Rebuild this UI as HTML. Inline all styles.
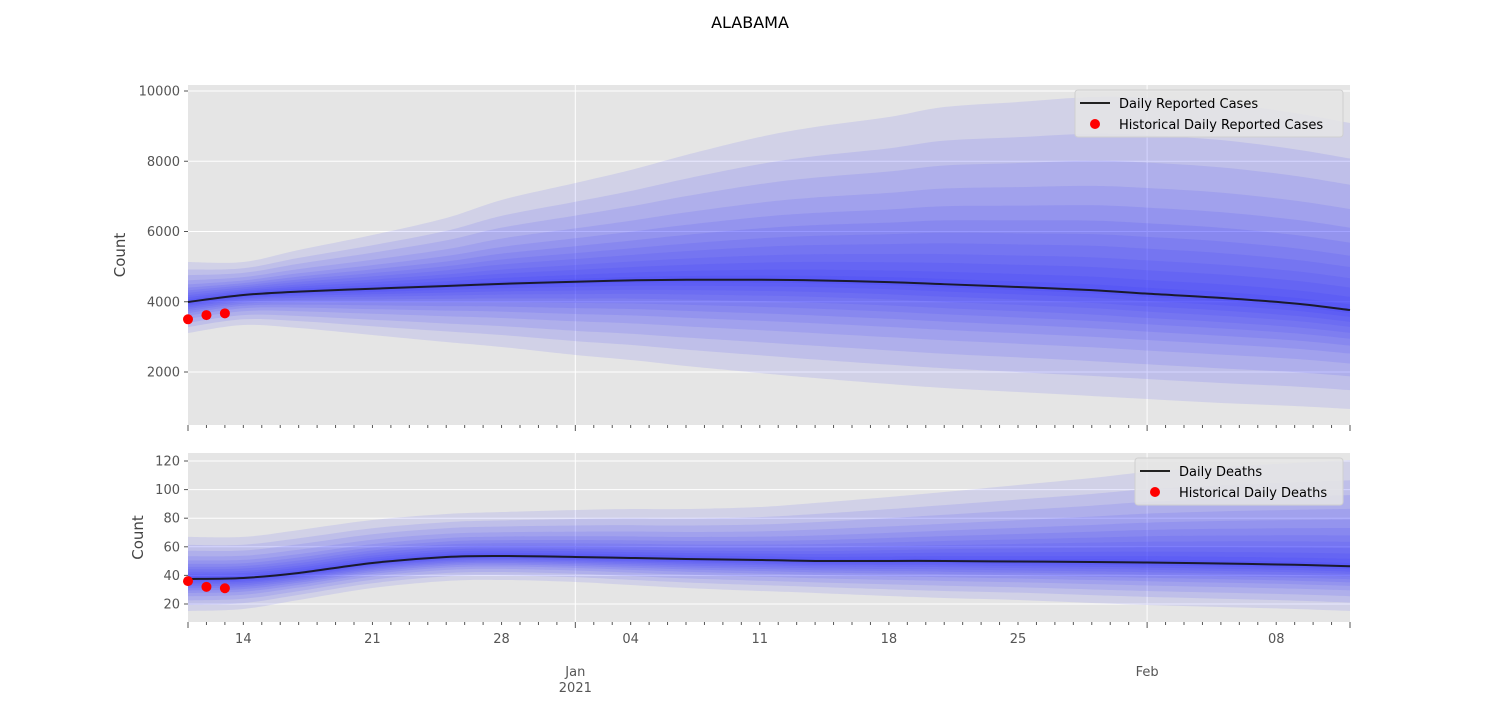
<!DOCTYPE html>
<html><head><meta charset="utf-8"><style>
body{margin:0;background:#fff;font-family:"Liberation Sans","DejaVu Sans",sans-serif}
</style></head><body>
<svg id="chart" width="1500" height="700" xmlns="http://www.w3.org/2000/svg" font-family="DejaVu Sans, Liberation Sans, sans-serif">
<text x="750" y="28" text-anchor="middle" font-size="16" fill="#000">ALABAMA</text>
<g id="top"></g><g id="bot"></g><g id="xaxis"></g>
</svg>
<script>
// sample days (days since Dec 11, 2020)
const sampleDays = [0,3,6,10,14,17,21,24,27,31,34,38,41,45,49,52,56,60,63];
const casesMedian = [3993,4192,4290,4370,4450,4510,4570,4610,4625,4625,4610,4560,4500,4420,4330,4230,4110,3950,3765];
const casesUpper  = [5132,5132,5473,5900,6384,6897,7380,7750,8178,8690,8975,9260,9545,9687,9829,9800,9658,9374,9089];
const casesLower  = [3110,3338,3253,3053,2853,2711,2484,2342,2171,1972,1829,1658,1544,1430,1317,1231,1117,1032,947];
const casesHistDays = [0,1,2];
const casesHist = [3500,3620,3670];
const deathsMedian = [37.5,38.2,41.7,48.7,52.9,53.6,52.9,52.2,51.5,50.8,50.1,50.1,50.1,49.7,49.4,49.0,48.3,47.4,46.4];
const deathsUpper  = [66.9,66.9,71.7,78.7,82.9,84.3,85.7,86.4,86.4,87.8,90.6,94.8,98.3,103.2,108.1,112.3,115.8,118.6,120.7];
const deathsLower  = [15.1,16.5,22.8,31.2,36.1,36.8,35.4,33.3,31.2,29.1,27.7,25.6,24.2,22.8,20.7,19.3,17.9,16.5,15.1];
const deathsHistDays = [0,1,2];
const deathsHist = [36,32,31];
const casesTicks = [2000,4000,6000,8000,10000];
const deathsTicks = [20,40,60,80,100,120];
const dayLabels = ["14","21","28","04","11","18","25","08"];
const dayLabelDays = [3,10,17,24,31,38,45,59];
const monthLabels = ["Jan\n2021","Feb"];
const monthDays = [21,52];

const NS="http://www.w3.org/2000/svg";
const X0=188,X1=1350,D0=0,D1=63;
const xs=d=>X0+(d-D0)/(D1-D0)*(X1-X0);
function mk(p,t,a){const e=document.createElementNS(NS,t);for(const k in a)e.setAttribute(k,a[k]);p.appendChild(e);return e;}
const fracs=[1,.81,.67,.54,.44,.36,.29,.23,.17,.12,.07,.03];

function smooth(pts,start){
  let s=(start?'M':'L')+pts[0][0]+','+pts[0][1];
  for(let i=0;i<pts.length-1;i++){
    const p0=pts[Math.max(0,i-1)],p1=pts[i],p2=pts[i+1],p3=pts[Math.min(pts.length-1,i+2)];
    const c1=[p1[0]+(p2[0]-p0[0])/6,p1[1]+(p2[1]-p0[1])/6];
    const c2=[p2[0]-(p3[0]-p1[0])/6,p2[1]-(p3[1]-p1[1])/6];
    s+=`C${c1[0]},${c1[1]} ${c2[0]},${c2[1]} ${p2[0]},${p2[1]}`;
  }
  return s;
}

function panel(g,top,bot,vmin,vmax,ticks,med,up,lo,hd,hv,leg,legX,legW,ylx){
  const ys=v=>bot-(v-vmin)/(vmax-vmin)*(bot-top);
  const bg=mk(g,'rect',{x:X0,y:top,width:X1-X0,height:bot-top,fill:'#e5e5e5'});
  
  
  ticks.forEach(t=>{
    const l=mk(g,'line',{x1:X0,x2:X1,y1:ys(t),y2:ys(t),stroke:'#fff','stroke-width':1});
    
    
    mk(g,'line',{x1:X0-4,x2:X0,y1:ys(t),y2:ys(t),stroke:'#555'});
    const tx=mk(g,'text',{x:X0-8,y:ys(t)+4.5,'text-anchor':'end','font-size':13,fill:'#555'});
    tx.textContent=t;
    
    
  });
  monthDays.forEach(d=>{const l=mk(g,'line',{x1:xs(d),x2:xs(d),y1:top,y2:bot,stroke:'#fff'});
    
    });
  fracs.forEach(f=>{
    const a=sampleDays.map((d,i)=>[xs(d),ys(med[i]+f*(up[i]-med[i]))]);
    const b=sampleDays.map((d,i)=>[xs(d),ys(med[i]-f*(med[i]-lo[i]))]).reverse();
    const p=mk(g,'path',{d:smooth(a,true)+smooth(b,false)+'Z',fill:'rgba(40,40,255,0.1)'});
    
    
  });
  const ml=mk(g,'path',{d:smooth(sampleDays.map((d,i)=>[xs(d),ys(med[i])]),true),fill:'none',stroke:'#1a1a2e','stroke-width':2});
  
  
  hd.forEach((d,i)=>{const c=mk(g,'circle',{cx:xs(d),cy:ys(hv[i]),r:5,fill:'red'});
    
    });
  const lg=mk(g,'g',{});
  
  
  mk(lg,'rect',{x:legX,y:top+5,width:legW,height:47,rx:3,fill:'#e5e5e5',stroke:'#d0d0d0','fill-opacity':0.85});
  mk(lg,'line',{x1:legX+5,x2:legX+35,y1:top+18,y2:top+18,stroke:'#222','stroke-width':2});
  mk(lg,'circle',{cx:legX+20,cy:top+39,r:5,fill:'red'});
  const t1=mk(lg,'text',{x:legX+44,y:top+23,'font-size':13,fill:'#000'});t1.textContent=leg[0];
  
  
  const t2=mk(lg,'text',{x:legX+44,y:top+44,'font-size':13,fill:'#000'});t2.textContent=leg[1];
  
  
  const yl=mk(g,'text',{x:0,y:0,transform:`translate(${ylx},${(top+bot)/2}) rotate(-90)`,'text-anchor':'middle','font-size':15,fill:'#444'});
  yl.textContent='Count';
  
  
  for(let d=D0;d<=D1;d++){
    const major=(d==0||d==D1||monthDays.includes(d));
    mk(g,'line',{x1:xs(d),x2:xs(d),y1:bot,y2:bot+(major?6:3),stroke:'#555'});
  }
}
panel(document.getElementById('top'),85,425,491,10171,casesTicks,casesMedian,casesUpper,casesLower,casesHistDays,casesHist,["Daily Reported Cases","Historical Daily Reported Cases"],1075,268,125);
panel(document.getElementById('bot'),453,622,7.4,125.6,deathsTicks,deathsMedian,deathsUpper,deathsLower,deathsHistDays,deathsHist,["Daily Deaths","Historical Daily Deaths"],1135,208,143);
const xa=document.getElementById('xaxis');
dayLabels.forEach((s,i)=>{const t=mk(xa,'text',{x:xs(dayLabelDays[i]),y:643,'text-anchor':'middle','font-size':13,fill:'#555'});t.textContent=s;
  
  });
monthLabels.forEach((s,i)=>{s.split('\n').forEach((ln,j)=>{const t=mk(xa,'text',{x:xs(monthDays[i]),y:676+j*16,'text-anchor':'middle','font-size':13,fill:'#555'});t.textContent=ln;
  
  });});
</script>
</body></html>
